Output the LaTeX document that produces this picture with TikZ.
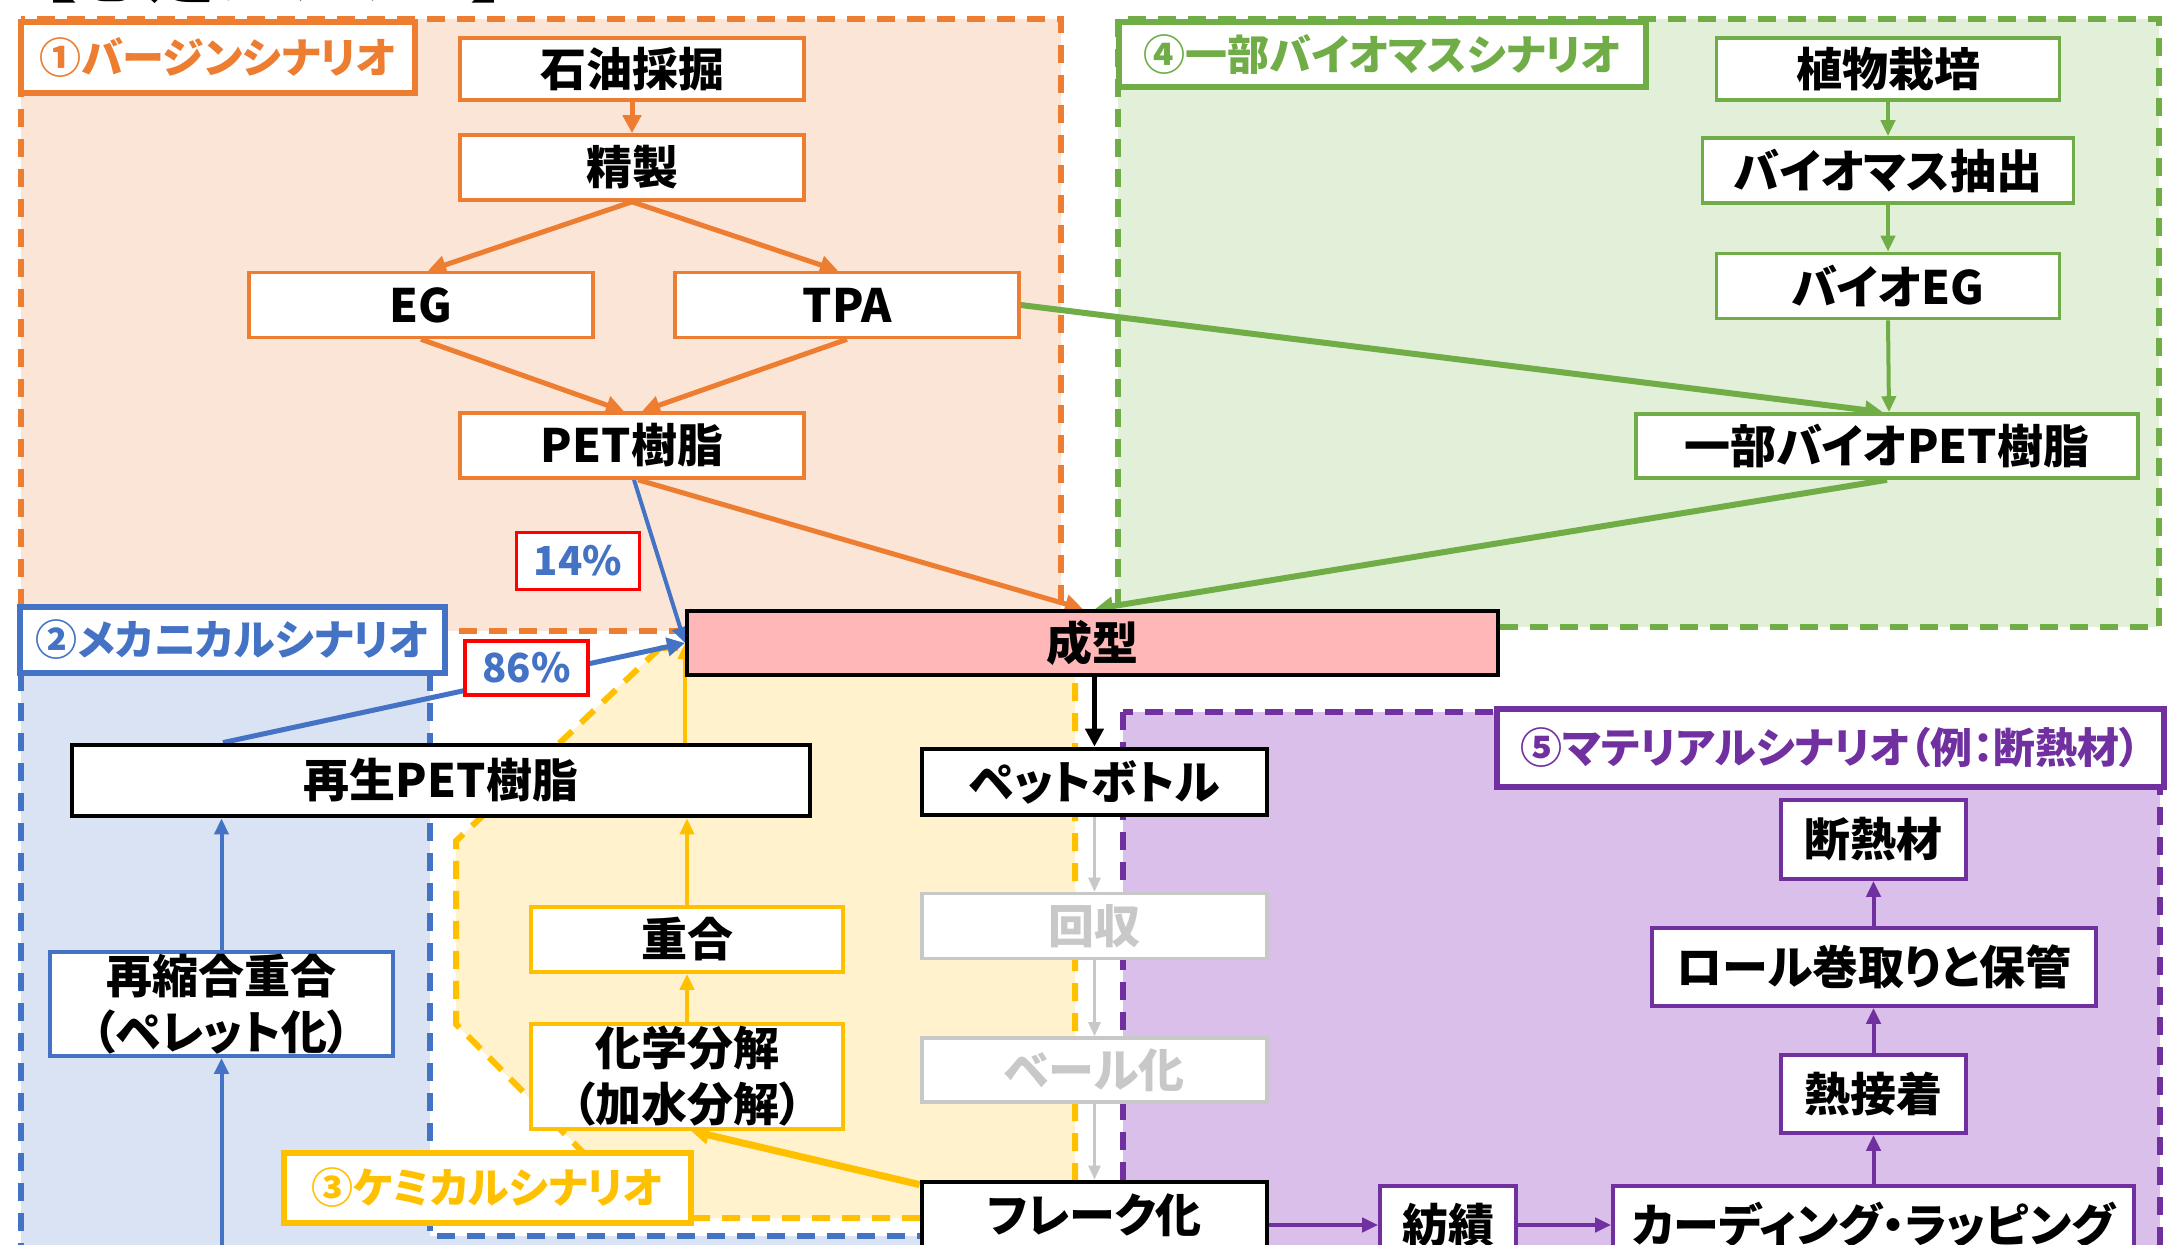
\documentclass[tikz,border=0pt]{standalone}
\usepackage{fontspec}
\newfontfamily\jp[RawFeature=+palt]{Noto Sans CJK JP}
\usetikzlibrary{arrows.meta,calc}
\definecolor{cOr}{HTML}{ED7D31}
\definecolor{cOrF}{HTML}{FBE5D6}
\definecolor{cGr}{HTML}{70AD47}
\definecolor{cGrF}{HTML}{E2F0D9}
\definecolor{cBl}{HTML}{4472C4}
\definecolor{cBlF}{HTML}{DAE3F3}
\definecolor{cYe}{HTML}{FFC000}
\definecolor{cYeF}{HTML}{FFF2CC}
\definecolor{cPu}{HTML}{7030A0}
\definecolor{cPuF}{HTML}{D9BFEA}
\definecolor{cPk}{HTML}{FFB7B7}
\definecolor{cGy}{HTML}{C8C8C8}
\definecolor{cRd}{HTML}{FF0000}
\pgfdeclarelayer{back}
\pgfdeclarelayer{mid}
\pgfsetlayers{back,mid,main}
\begin{document}
\begin{tikzpicture}[x=0.5pt,y=-0.5pt,
  sz/.style 2 args={minimum width=#1*0.5pt, minimum height=#2*0.5pt},
  box/.style={draw, fill=white, rectangle, inner sep=0pt, line width=1.8pt, align=center,
    font=\jp\bfseries\fontsize{23}{28}\selectfont},
  obox/.style={box, draw=cOr},
  gbox/.style={box, draw=cGr},
  kbox/.style={box, draw=black, line width=2.4pt},
  bbox/.style={box, draw=cBl},
  ybox/.style={box, draw=cYe},
  pbox/.style={box, draw=cPu},
  gybox/.style={box, draw=cGy, text=cGy},
  lab/.style={draw, fill=white, rectangle, inner sep=0pt, line width=3pt,
    font=\jp\bfseries\fontsize{21}{25}\selectfont},
  pct/.style={draw=cRd, fill=white, rectangle, inner sep=0pt, line width=1.8pt, text=cBl,
    font=\jp\bfseries\fontsize{20}{24}\selectfont},
  region/.style={line width=3pt, dash pattern=on 9pt off 6pt},
  arr/.style={-{Triangle[length=9pt,width=9pt]}, line width=2.5pt},
  tarr/.style={-{Triangle[length=8pt,width=7pt]}, line width=2pt},
]
\useasboundingbox (0,0) rectangle (2181,1244);

% title (cut off at top)
\node[anchor=base west, inner sep=0pt, font=\jp\bfseries\fontsize{35}{35}\selectfont] (title) at (40,-4) {【想定シナリオ】};

% ---- nodes ----
\node[obox, sz={344}{62}] (oil) at (632,69) {石油採掘};
\node[obox, sz={344}{65}] (ref) at (632,167.5) {精製};
\node[obox, sz={344}{65}] (eg) at (421,305) {EG};
\node[obox, sz={344}{65}] (tpa) at (847,305) {TPA};
\node[obox, sz={344}{65}] (pet) at (632,445.5) {PET樹脂};
\node[pct, sz={123}{57}] (p14) at (578,561) {14\%};

\node[gbox, sz={343}{62}] (plant) at (1888,69) {植物栽培};
\node[gbox, sz={371}{65}] (bm) at (1888,170.5) {バイオマス抽出};
\node[gbox, sz={343}{65}] (beg) at (1888,286) {バイオEG};
\node[gbox, sz={502}{64}] (bpet) at (1887,446) {一部バイオPET樹脂};

\node[kbox, line width=2pt, fill=cPk, sz={811}{64}] (mold) at (1092.5,643) {成型};
\node[pct, sz={123}{54}] (p86) at (526.5,668) {86\%};
\node[kbox, sz={738}{71}] (rpet) at (441,780.5) {再生PET樹脂};
\node[bbox, sz={343}{104}] (repol) at (221.5,1004) {再縮合重合\\（ペレット化）};
\node[ybox, sz={312}{65}] (poly) at (687,939.5) {重合};
\node[ybox, sz={312}{105}] (chem) at (687,1076.5) {化学分解\\（加水分解）};

\node[kbox, sz={345}{66}] (bottle) at (1094.5,782) {ペットボトル};
\node[gybox, sz={345}{65}] (coll) at (1094.5,926) {回収};
\node[gybox, sz={345}{64}] (bale) at (1094.5,1070) {ベール化};
\node[kbox, sz={345}{66}] (flake) at (1094.5,1215) {フレーク化};

\node[pbox, sz={185}{79}] (ins) at (1873.5,839.5) {断熱材};
\node[pbox, sz={444}{78}] (roll) at (1874,967) {ロール巻取りと保管};
\node[pbox, sz={185}{78}] (heat) at (1873.5,1094) {熱接着};
\node[pbox, sz={136}{78}] (spin) at (1448,1225) {紡績};
\node[pbox, sz={521}{78}] (card) at (1873.5,1225) {カーディング・ラッピング};

% ---- scenario labels ----
\node[lab, draw=cOr, text=cOr, sz={394}{71}] (l1) at (218,57.5) {①バージンシナリオ};
\node[lab, draw=cBl, text=cBl, sz={425}{66}] (l2) at (232.5,640) {②メカニカルシナリオ};
\node[lab, draw=cYe, text=cYe, sz={407}{70}] (l3) at (487.5,1188) {③ケミカルシナリオ};
\node[lab, draw=cGr, text=cGr, sz={527}{65}] (l4) at (1382.5,54.5) {④一部バイオマスシナリオ};
\node[lab, draw=cPu, text=cPu, sz={667}{78}] (l5) at (1830.5,748) {⑤マテリアルシナリオ（例：断熱材）};

\coordinate (bstart) at (221.5,1260);

% ---- regions ----
\begin{pgfonlayer}{back}
\fill[white] (0,0) rectangle (2181,1244);
\draw[region, draw=cOr, fill=cOrF] (21,19) rectangle (1061,631);
\draw[region, draw=cGr, fill=cGrF] (1118,19) rectangle (2159,627);
\fill[cBlF] (21,673) rectangle (430,1260);
\fill[cBlF] (430,1236) rectangle (925,1260);
\draw[region, draw=cBl] (21,673) -- (21,1260);
\draw[region, draw=cBl] (430,673) -- (430,1236) -- (925,1236);
\draw[region, draw=cYe, fill=cYeF] (660,648) -- (1075,648) -- (1075,1218) -- (648,1218) -- (456,1024) -- (456,841) -- cycle;
\draw[region, draw=cPu, fill=cPuF] (1123,712) rectangle (2160,1270);
\end{pgfonlayer}

% ---- connectors ----
\begin{pgfonlayer}{mid}
\draw[arr, cOr] (oil) -- (ref);
\draw[arr, cOr] (ref.south) -- ($(eg.north)+(7,0)$);
\draw[arr, cOr] (ref.south) -- ($(tpa.north)+(-9,0)$);
\draw[arr, cOr] (eg.south) -- ($(pet.north)+(-8,0)$);
\draw[arr, cOr] (tpa.south) -- ($(pet.north)+(10,0)$);
\draw[arr, cOr] ($(pet.south)+(6,0)$) -- ($(mold.north)+(-9.5,0)$);
\draw[-{Triangle[length=8pt,width=8pt]}, line width=2pt, cBl] ($(pet.south)+(2,0)$) -- (mold.west);

\draw[arr, line width=3pt, cGr] (tpa.east) -- ($(bpet.north)+(-4,0)$);
\draw[tarr, cGr] (plant) -- (bm);
\draw[tarr, cGr] (bm) -- (beg);
\draw[tarr, cGr] (beg.south) -- ($(bpet.north)+(2,0)$);
\draw[arr, line width=3pt, cGr] (bpet.south) -- ($(mold.north)+(2.5,0)$);

\draw[arr, cBl] ($(rpet.north)+(-218,0)$) -- (mold.west);
\draw[tarr, cBl] (repol.north) -- (repol.north |- rpet.south);
\draw[tarr, cBl] (bstart) -- (repol.south);

\draw[tarr, cYe] (chem) -- (poly);
\draw[tarr, cYe] (poly.north) -- (poly.north |- rpet.south);
\draw[tarr, cYe] (rpet.north -| mold.west) -- (mold.west);
\draw[arr, line width=3.5pt, cYe] ($(flake.north west)+(0,5)$) -- ($(chem.south)+(4,0)$);

\draw[arr, black] (bottle.north |- mold.south) -- (bottle.north);
\draw[-{Triangle[length=7pt,width=6pt]}, line width=1.3pt, cGy] (bottle) -- (coll);
\draw[-{Triangle[length=7pt,width=6pt]}, line width=1.3pt, cGy] (coll) -- (bale);
\draw[-{Triangle[length=7pt,width=6pt]}, line width=1.3pt, cGy] (bale) -- (flake);

\draw[tarr, cPu] (flake.east |- spin.west) -- (spin.west);
\draw[tarr, cPu] (spin) -- (card);
\draw[tarr, cPu] (card.north -| heat.south) -- (heat.south);
\draw[tarr, cPu] (heat) -- (roll.south -| heat.north);
\draw[tarr, cPu] (roll.north -| ins.south) -- (ins.south);
\end{pgfonlayer}
\end{tikzpicture}
\end{document}
